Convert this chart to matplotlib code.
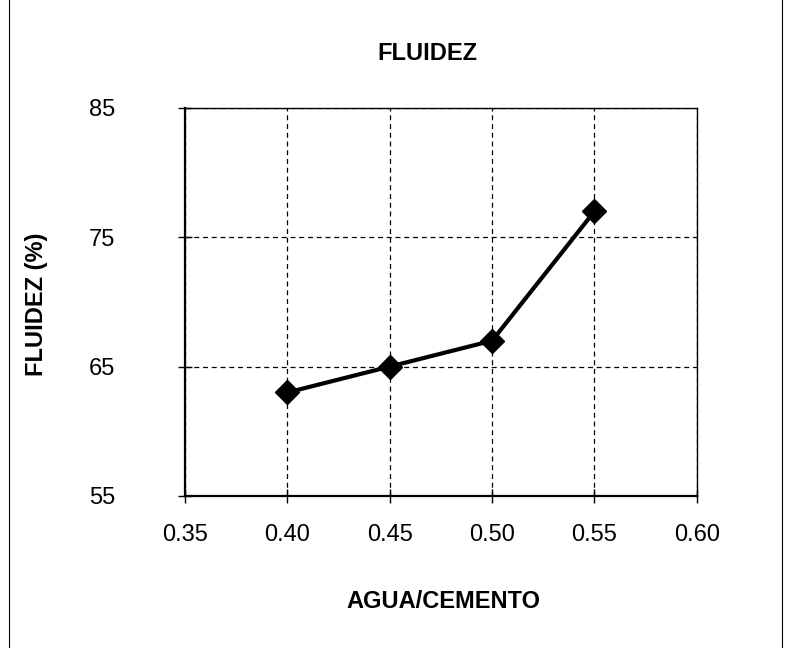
import matplotlib.pyplot as plt
from matplotlib.lines import Line2D

plt.rcParams['font.family'] = ['Liberation Sans', 'DejaVu Sans']

# water/cement ratio vs. fluidity
agua_cemento = [0.40, 0.45, 0.50, 0.55]
fluidez = [63, 65, 67, 77]

x_ticks = [0.35, 0.40, 0.45, 0.50, 0.55, 0.60]
y_ticks = [55, 65, 75, 85]

fig = plt.figure(figsize=(7.91, 6.48), dpi=100)
ax = fig.add_axes([0.2339, 0.2346, 0.647, 0.599])

ax.plot(agua_cemento, fluidez, color='black', lw=3, marker='D',
        markersize=12, zorder=3)

ax.set_xlim(0.35, 0.60)
ax.set_ylim(55, 85)
ax.set_xticks(x_ticks)
ax.set_xticklabels(['%.2f' % v for v in x_ticks])
ax.set_yticks(y_ticks)

ax.grid(True, color='black', linestyle=(0, (4, 3)), lw=0.9)
ax.tick_params(direction='inout', length=10, width=1, labelsize=17,
               colors='black')
ax.tick_params(axis='x', pad=15)
ax.tick_params(axis='y', pad=45)

for side in ['left', 'bottom']:
    ax.spines[side].set_linewidth(1.6)
for side in ['top', 'right']:
    ax.spines[side].set_linewidth(1.0)

fig.text(0.54, 0.917, 'FLUIDEZ', ha='center', va='center',
         fontsize=17, fontweight='bold')
fig.text(0.561, 0.071, 'AGUA/CEMENTO', ha='center', va='center',
         fontsize=17, fontweight='bold')
fig.text(0.046, 0.53, 'FLUIDEZ (%)', ha='center', va='center',
         rotation=90, fontsize=17, fontweight='bold')

# page border lines at the sides
fig.add_artist(Line2D([0.011, 0.011], [0, 1], color='black', lw=0.8,
                      transform=fig.transFigure))
fig.add_artist(Line2D([0.988, 0.988], [0, 1], color='black', lw=0.8,
                      transform=fig.transFigure))

fig.savefig('out.png', dpi=100)
